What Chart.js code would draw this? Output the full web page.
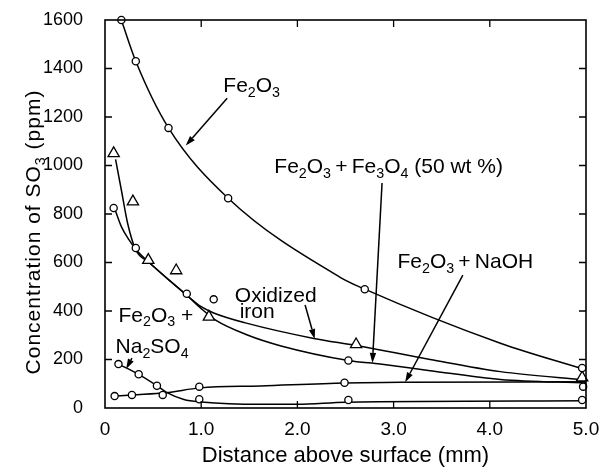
<!DOCTYPE html>
<html>
<head>
<meta charset="utf-8">
<script src="https://cdn.jsdelivr.net/npm/chart.js@4/dist/chart.umd.min.js"></script>
<style>
  body { margin: 0; background: #fff; }
</style>
</head>
<body>
<canvas id="so3Chart" width="602" height="469"></canvas>
<script>
// distance above surface (mm) vs SO3 concentration (ppm)
const xTicks = [0, 1, 2, 3, 4, 5];
const yTicks = [0, 200, 400, 600, 800, 1000, 1200, 1400, 1600];

// measured points
const fe2o3X = [0.17, 0.32, 0.66, 1.28, 2.70, 4.96];
const fe2o3Y = [1600, 1430, 1155, 865, 490, 165];
const oxidizedX = [0.09, 0.29, 0.45, 0.74, 1.08, 2.61, 4.96];
const oxidizedY = [1050, 851, 610, 567, 376, 262, 125];
const fe3o4X = [0.09, 0.32, 0.85, 1.13, 2.53, 4.97];
const fe3o4Y = [825, 660, 471, 448, 196, 88];
const naohX = [0.10, 0.28, 0.60, 0.98, 2.49];
const naohY = [49, 54, 54, 88, 104];
const na2so4X = [0.14, 0.35, 0.54, 0.98, 2.53, 4.96];
const na2so4Y = [181, 139, 92, 36, 33, 33];

// fitted curves
const fe2o3FitX = [0.17, 0.32, 0.66, 1.28, 2.44, 2.70, 4.11, 5.0];
const fe2o3FitY = [1600, 1430, 1155, 865, 540, 490, 267, 157];
const oxidizedFitX = [0.11, 0.17, 0.235, 0.32, 0.45, 0.85, 1.0, 1.13, 1.47, 2.17, 2.61, 3.38, 4.11, 5.0];
const oxidizedFitY = [1025, 899, 762, 652, 603, 465, 418, 392, 350, 287, 258, 200, 150, 115];
const fe3o4FitX = [0.10, 0.17, 0.25, 0.32, 0.45, 0.85, 1.0, 1.15, 1.48, 1.83, 2.53, 2.86, 3.38, 4.11, 5.0];
const fe3o4FitY = [823, 748, 693, 655, 603, 465, 410, 362, 301, 256, 196, 181, 154, 118, 103];
const naohFitX = [0.10, 0.28, 0.63, 0.99, 1.62, 2.5, 3.1, 5.0];
const naohFitY = [49, 54, 63, 83, 91, 103, 106, 108];
const na2so4FitX = [0.14, 0.35, 0.54, 0.65, 0.82, 1.0, 1.6, 2.0, 2.5, 5.0];
const na2so4FitY = [181, 139, 92, 62, 35, 25, 15, 15, 24, 30];

// labels: [text, subscript] parts, anchored at left baseline in data units
const labels = [
  { parts: [["Fe"], ["2", 1], ["O"], ["3", 1]], x: 1.23, y: 1303 },
  { parts: [["Fe"], ["2", 1], ["O"], ["3", 1], ["+Fe"], ["3", 1], ["O"], ["4", 1], [" (50 wt %)"]], x: 1.76, y: 969 },
  { parts: [["Fe"], ["2", 1], ["O"], ["3", 1], ["+NaOH"]], x: 3.04, y: 577 },
  { parts: [["Oxidized"]], x: 1.35, y: 438 },
  { parts: [["iron"]], x: 1.40, y: 370 },
  { parts: [["Fe"], ["2", 1], ["O"], ["3", 1], [" +"]], x: 0.14, y: 356 },
  { parts: [["Na"], ["2", 1], ["SO"], ["4", 1]], x: 0.11, y: 227 },
];
// arrows: from -> to, data units
const arrows = [
  [1.27, 1277, 0.84, 1082],
  [2.88, 928, 2.78, 186],
  [3.72, 548, 3.12, 106],
  [2.08, 425, 2.18, 285],
  [0.28, 206, 0.22, 161],
];

const FONT = '"Liberation Sans", Arial, sans-serif';
const pts = (xs, ys) => xs.map((v, i) => ({ x: v, y: ys[i] }));

function markers(xs, ys, style, r) {
  return {
    data: pts(xs, ys),
    showLine: false,
    pointStyle: style,
    pointRadius: r,
    pointBackgroundColor: "#fff",
    pointBorderColor: "#000",
    pointBorderWidth: 1.3,
    clip: false,
  };
}
function fit(xs, ys) {
  return {
    data: pts(xs, ys),
    showLine: true,
    pointRadius: 0,
    borderColor: "#000",
    borderWidth: 1.5,
    cubicInterpolationMode: "monotone",
    clip: false,
  };
}

function drawRich(ctx, parts, x, y, size) {
  let cx = x;
  parts.forEach(([txt, sub]) => {
    const fs = sub ? size * 0.68 : size;
    ctx.font = `${fs}px ${FONT}`;
    // a joining "+" gets a thin space on each side
    const t = txt.replace(/^\+/, "\u2009+\u2009");
    ctx.fillText(t, cx, sub ? y + size * 0.22 : y);
    cx += ctx.measureText(t).width;
  });
  return cx - x;
}
function richWidth(ctx, parts, size) {
  let w = 0;
  parts.forEach(([txt, sub]) => {
    ctx.font = `${sub ? size * 0.68 : size}px ${FONT}`;
    w += ctx.measureText(txt).width;
  });
  return w;
}

// keep the plot box exactly where layout padding puts it
function noOverflow(s) {
  s.paddingTop = s.paddingBottom = s.paddingLeft = s.paddingRight = 0;
}

const decorPlugin = {
  id: "decor",
  afterDraw(chart) {
    const { ctx, chartArea: a, scales: { x, y } } = chart;
    ctx.save();
    ctx.strokeStyle = "#000";
    ctx.fillStyle = "#000";

    // frame with inward ticks on all sides
    ctx.lineWidth = 1.6;
    ctx.strokeRect(a.left, a.top, a.right - a.left, a.bottom - a.top);
    ctx.lineWidth = 1.3;
    ctx.beginPath();
    xTicks.slice(1, -1).forEach((v) => {
      const px = x.getPixelForValue(v);
      ctx.moveTo(px, a.bottom); ctx.lineTo(px, a.bottom - 7);
      ctx.moveTo(px, a.top); ctx.lineTo(px, a.top + 7);
    });
    yTicks.slice(1, -1).forEach((v) => {
      const py = y.getPixelForValue(v);
      ctx.moveTo(a.left, py); ctx.lineTo(a.left + 7, py);
      ctx.moveTo(a.right, py); ctx.lineTo(a.right - 7, py);
    });
    ctx.stroke();

    // arrows
    arrows.forEach(([x1, y1, x2, y2]) => {
      const ax = x.getPixelForValue(x1), ay = y.getPixelForValue(y1);
      const bx = x.getPixelForValue(x2), by = y.getPixelForValue(y2);
      const ang = Math.atan2(by - ay, bx - ax);
      const hl = 10, hw = 3.2;
      ctx.lineWidth = 1.5;
      ctx.beginPath();
      ctx.moveTo(ax, ay);
      ctx.lineTo(bx - hl * Math.cos(ang), by - hl * Math.sin(ang));
      ctx.stroke();
      ctx.beginPath();
      ctx.moveTo(bx, by);
      ctx.lineTo(bx - hl * Math.cos(ang) + hw * Math.sin(ang), by - hl * Math.sin(ang) - hw * Math.cos(ang));
      ctx.lineTo(bx - hl * Math.cos(ang) - hw * Math.sin(ang), by - hl * Math.sin(ang) + hw * Math.cos(ang));
      ctx.closePath();
      ctx.fill();
    });

    // series labels
    ctx.textBaseline = "alphabetic";
    ctx.textAlign = "left";
    labels.forEach((l) => drawRich(ctx, l.parts, x.getPixelForValue(l.x), y.getPixelForValue(l.y), 21));

    // y axis title
    const title = [["Concentration of SO"], ["3", 1], [" (ppm)"]];
    ctx.letterSpacing = "1px";
    const w = richWidth(ctx, title, 21);
    ctx.translate(40, 232);
    ctx.rotate(-Math.PI / 2);
    drawRich(ctx, title, -w / 2, 0, 21);
    ctx.restore();
  },
};

new Chart(document.getElementById("so3Chart"), {
  type: "scatter",
  data: {
    datasets: [
      markers(fe2o3X, fe2o3Y, "circle", 3.6),
      markers(oxidizedX, oxidizedY, "triangle", 6.5),
      markers(fe3o4X, fe3o4Y, "circle", 3.6),
      markers(naohX, naohY, "circle", 3.6),
      markers(na2so4X, na2so4Y, "circle", 3.6),
      fit(fe2o3FitX, fe2o3FitY),
      fit(oxidizedFitX, oxidizedFitY),
      fit(fe3o4FitX, fe3o4FitY),
      fit(naohFitX, naohFitY),
      fit(na2so4FitX, na2so4FitY),
    ],
  },
  options: {
    responsive: false,
    animation: false,
    layout: { padding: { left: 0, right: 16, top: 20, bottom: 0 } },
    plugins: { legend: { display: false }, tooltip: { enabled: false } },
    scales: {
      x: {
        type: "linear",
        min: 0,
        max: 5,
        afterFit: (s) => { s.height = 61; noOverflow(s); },
        afterBuildTicks: (s) => { s.ticks = xTicks.map((v) => ({ value: v })); },
        grid: { display: false, drawTicks: false },
        border: { display: false },
        ticks: {
          color: "#000",
          padding: 10,
          maxRotation: 0,
          font: { family: FONT, size: 19 },
          callback: (v) => (v === 0 ? "0" : v.toFixed(1)),
        },
        title: {
          display: true,
          text: "Distance above surface (mm)",
          color: "#000",
          padding: 0,
          font: { family: FONT, size: 22 },
        },
      },
      y: {
        min: 0,
        max: 1600,
        afterFit: (s) => { s.width = 105; noOverflow(s); },
        afterBuildTicks: (s) => { s.ticks = yTicks.map((v) => ({ value: v })); },
        grid: { display: false, drawTicks: false },
        border: { display: false },
        ticks: {
          color: "#000",
          padding: 22,
          font: { family: FONT, size: 18 },
          callback: (v) => String(v),
        },
      },
    },
  },
  plugins: [decorPlugin],
});
</script>
</body>
</html>
